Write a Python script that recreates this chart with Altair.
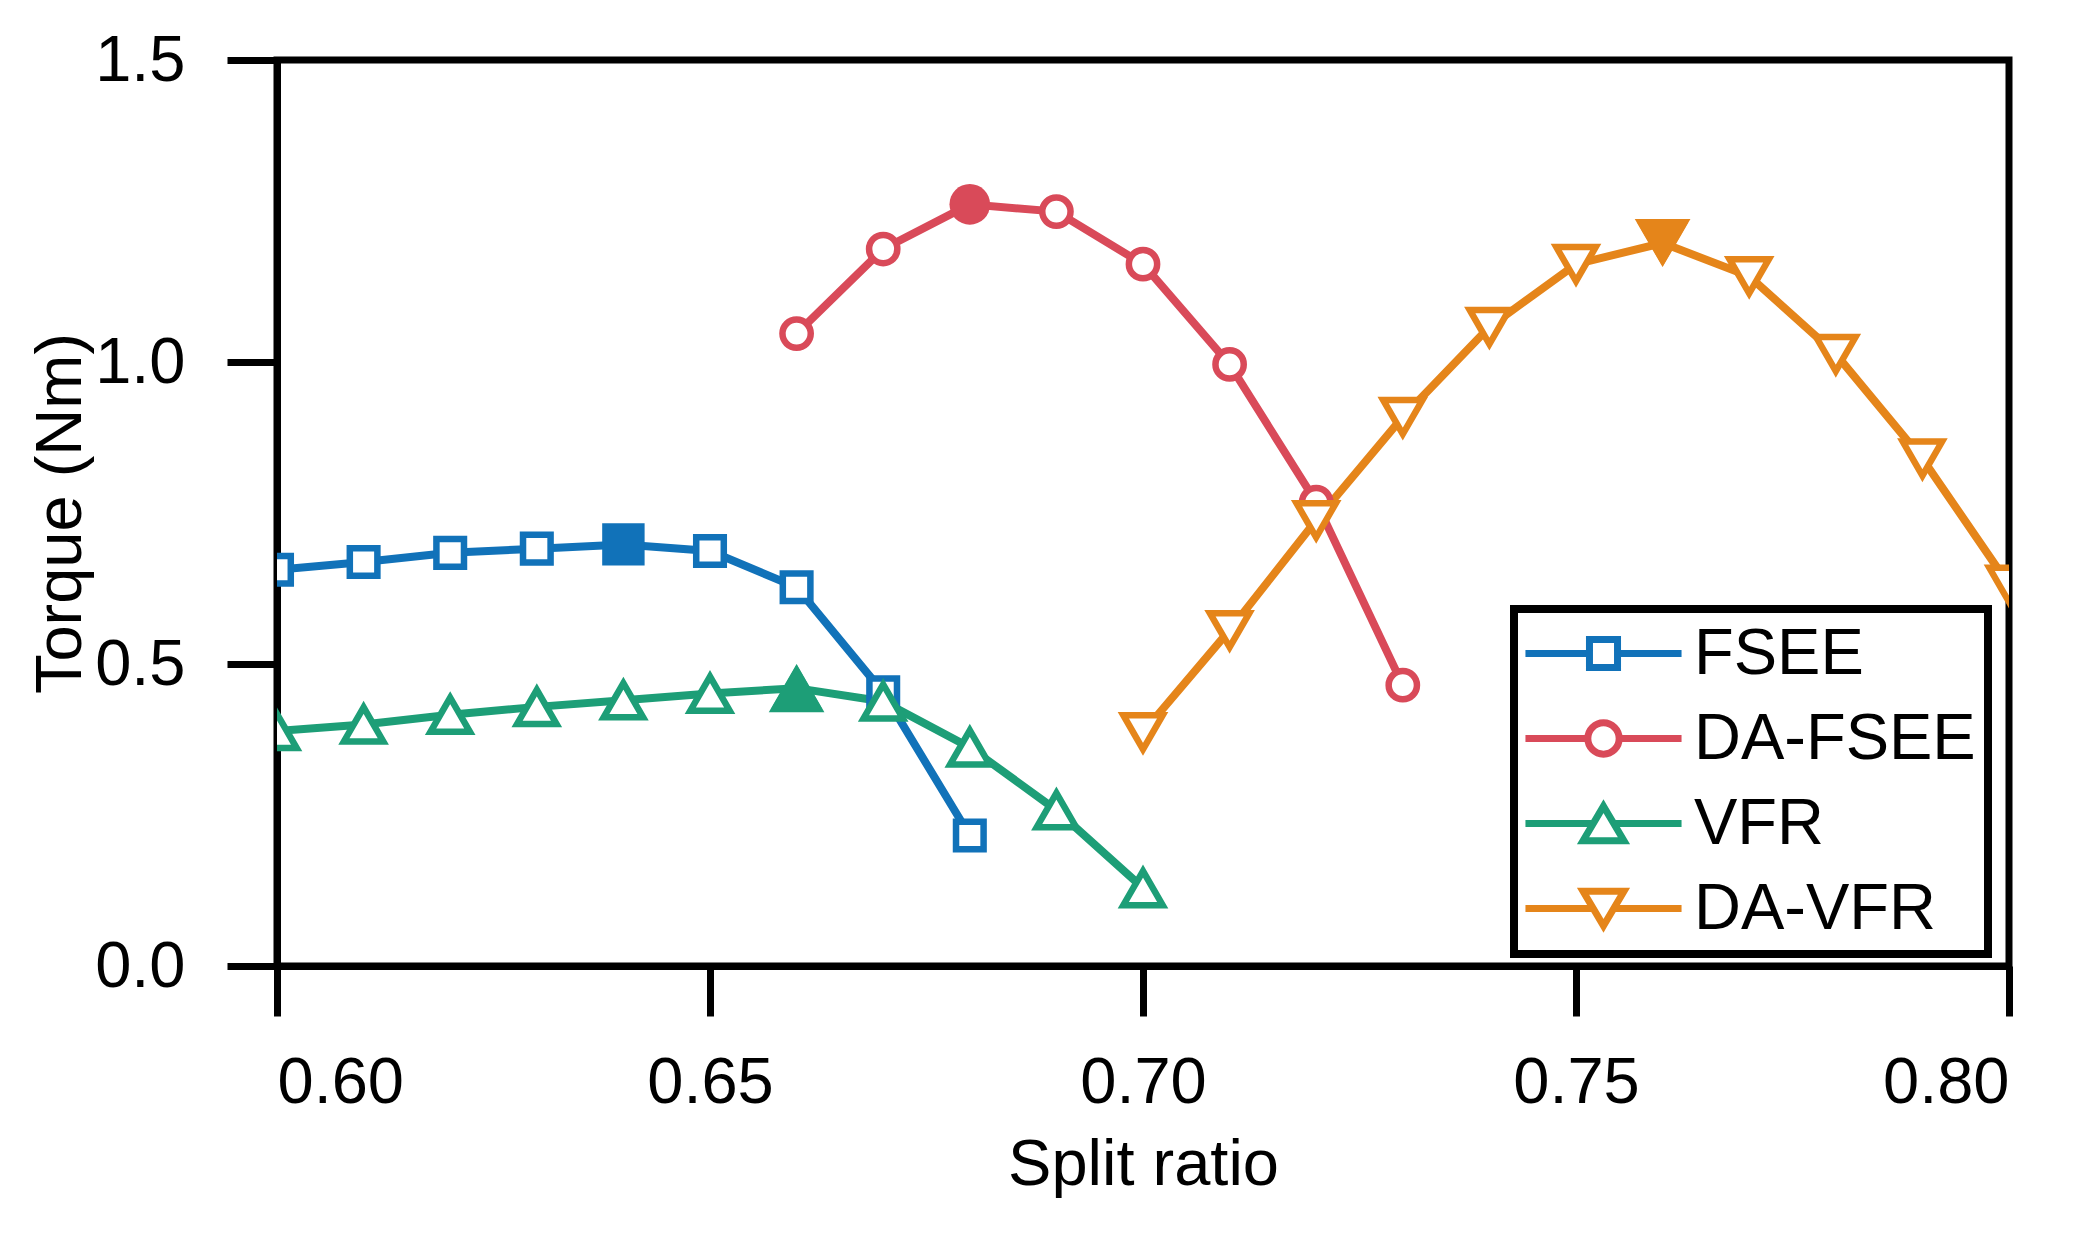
import pandas as pd
import altair as alt

# series names and colours
names = ["FSEE", "DA-FSEE", "VFR", "DA-VFR"]
colors = ["#1172b9", "#d94a59", "#1d9e77", "#e5851a"]

# values
fsee_x = [0.60, 0.61, 0.62, 0.63, 0.64, 0.65, 0.66, 0.67, 0.68]
fsee_y = [0.656, 0.669, 0.684, 0.691, 0.698, 0.687, 0.627, 0.453, 0.216]

dafsee_x = [0.66, 0.67, 0.68, 0.69, 0.70, 0.71, 0.72, 0.73]
dafsee_y = [1.047, 1.187, 1.261, 1.249, 1.162, 0.996, 0.768, 0.465]

vfr_x = [0.60, 0.61, 0.62, 0.63, 0.64, 0.65, 0.66, 0.67, 0.68, 0.69, 0.70]
vfr_y = [0.389, 0.400, 0.416, 0.429, 0.440, 0.451, 0.460, 0.438, 0.362, 0.258, 0.129]

davfr_x = [0.70, 0.71, 0.72, 0.73, 0.74, 0.75, 0.76, 0.77, 0.78, 0.79, 0.80]
davfr_y = [0.387, 0.556, 0.738, 0.909, 1.058, 1.162, 1.197, 1.142, 1.013, 0.840, 0.631]

# optimum split ratio of each machine (filled marker)
peak_x = [0.64, 0.68, 0.66, 0.76]

x_ticks = [0.60, 0.65, 0.70, 0.75, 0.80]
y_ticks = [0.0, 0.5, 1.0, 1.5]

frames = []
for name, xs, ys, px in zip(names, [fsee_x, dafsee_x, vfr_x, davfr_x],
                            [fsee_y, dafsee_y, vfr_y, davfr_y], peak_x):
    d = pd.DataFrame({"ratio": xs, "torque": ys})
    d["series"] = name
    d["peak"] = [abs(v - px) < 1e-9 for v in xs]
    frames.append(d)
df = pd.concat(frames, ignore_index=True)

FONT = "Liberation Sans"
color_scale = alt.Scale(domain=names, range=colors)

# marker look per series: shape, open size, filled size
shapes = ["square", "circle", "triangle-up", "triangle-down"]
open_size = [760, 800, 1550, 1550]
peak_size = [1800, 1650, 3100, 3100]

# legend symbols: line with a gap and the marker in the middle
legend_shapes = [
    "M-4.73,0H-0.85M0.85,0H4.73M-0.85,-0.85H0.85V0.85H-0.85Z",
    "M-4.73,0H-0.95M0.95,0H4.73M-0.95,0A0.95,0.95,0,1,0,0.95,0A0.95,0.95,0,1,0,-0.95,0Z",
    "M-4.73,0H-0.62M0.62,0H4.73M0,-1.05L1.24,1.05L-1.24,1.05Z",
    "M-4.73,0H-0.62M0.62,0H4.73M0,1.05L1.24,-1.05L-1.24,-1.05Z",
]

x_enc = alt.X("ratio:Q", scale=alt.Scale(domain=[0.6, 0.8], nice=False, zero=False),
              axis=alt.Axis(values=x_ticks, format=".2f", title="Split ratio",
                            labelPadding=35, titlePadding=18))
y_enc = alt.Y("torque:Q", scale=alt.Scale(domain=[0, 1.5], nice=False),
              axis=alt.Axis(values=y_ticks, format=".1f", title="Torque (Nm)",
                            labelPadding=42, titlePadding=0))

base = alt.Chart(df)

lines = base.mark_line(strokeWidth=8, clip=True).encode(
    x=x_enc, y=y_enc,
    color=alt.Color("series:N", scale=color_scale, legend=None),
    order="ratio:Q",
)

layers = [lines]
for name, col, shp, s_open in zip(names, colors, shapes, open_size):
    sub = base.transform_filter(alt.datum.series == name)
    layers.append(sub.mark_point(filled=False, fill="white", fillOpacity=1, strokeWidth=6.5,
                                 opacity=1, clip=True, shape=shp, size=s_open, color=col).encode(
        x=x_enc, y=y_enc))
for name, col, shp, s_peak in zip(names, colors, shapes, peak_size):
    sub = base.transform_filter((alt.datum.series == name) & alt.datum.peak)
    layers.append(sub.mark_point(filled=True, opacity=1, clip=True, shape=shp,
                                 size=s_peak, color=col).encode(
        x=x_enc, y=y_enc))

legend_layer = base.mark_point(filled=False, opacity=0, strokeWidth=7).encode(
    x=x_enc, y=y_enc,
    color=alt.Color("series:N", scale=color_scale,
                    legend=alt.Legend(title=None, orient="none", legendX=1237, legendY=549)),
    shape=alt.Shape("series:N", scale=alt.Scale(domain=names, range=legend_shapes),
                    legend=alt.Legend(title=None, orient="none", legendX=1237, legendY=549)),
)
layers.append(legend_layer)

chart = alt.layer(*layers).resolve_scale(
    color="independent", shape="independent"
).properties(
    width=1732, height=906,
    autosize=alt.AutoSizeParams(type="none"),
    padding={"left": 269, "top": 52, "right": 70, "bottom": 260},
).configure_view(
    stroke="black", strokeWidth=7
).configure_axis(
    domainColor="black", domainWidth=7,
    tickColor="black", tickWidth=7, tickSize=50,
    grid=False,
    labelFont=FONT, labelFontSize=65, labelColor="black",
    titleFont=FONT, titleFontSize=65, titleColor="black", titleFontWeight="normal",
).configure_legend(
    labelFont=FONT, labelFontSize=65, labelColor="black", labelLimit=0,
    symbolSize=1089, symbolStrokeWidth=7, symbolOpacity=1,
    symbolOffset=45, labelOffset=58,
    rowPadding=19, padding=12,
    strokeColor="black", strokeWidth=8, fillColor="white",
)

chart.save("out.html", embed_options={"renderer": "svg", "actions": False})
